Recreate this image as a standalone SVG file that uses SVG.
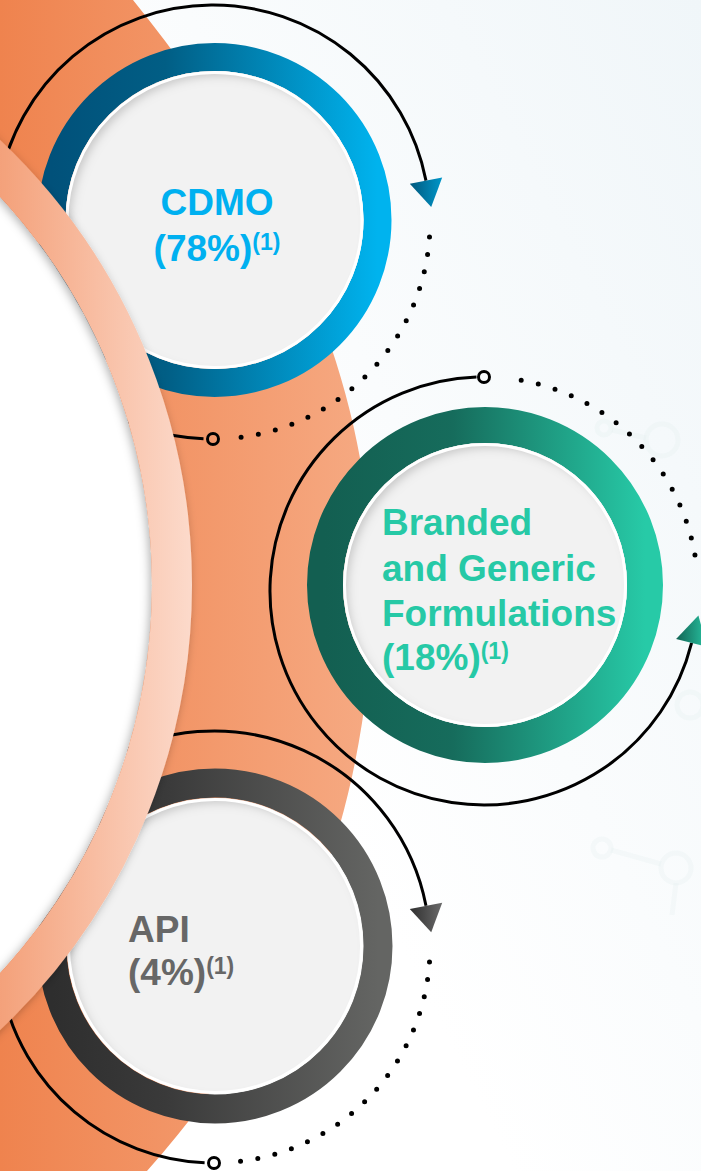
<svg xmlns="http://www.w3.org/2000/svg" width="701" height="1171" viewBox="0 0 701 1171">
  <defs>
    <style>
      .lbl { font-family: "Liberation Sans", Arial, sans-serif; font-weight: bold; font-size: 37px; }
      .sup { font-size: 23px; }
      .wire { fill: none; stroke: #000; stroke-width: 3; }
      .dots { fill: none; stroke: #000; stroke-width: 5; stroke-linecap: round; stroke-dasharray: 0 17.5; }
      .end { fill: none; stroke: #000; stroke-width: 3; }
      .disc { fill: #f2f2f2; filter: url(#inset); }
      .rim { fill: none; stroke: #ffffff; stroke-width: 3; }
      .deco { fill: none; stroke: #dcebec; stroke-width: 5; opacity: 0.2; }
    </style>
    <linearGradient id="bgGrad" x1="1" y1="0" x2="0.35" y2="0.55">
      <stop offset="0" stop-color="#f0f6f9"/>
      <stop offset="1" stop-color="#ffffff"/>
    </linearGradient>
    <linearGradient id="orangeGrad" gradientUnits="userSpaceOnUse" x1="0" y1="0" x2="375" y2="0">
      <stop offset="0" stop-color="#ef834e"/>
      <stop offset="1" stop-color="#f6aa83"/>
    </linearGradient>
    <linearGradient id="peachGrad" gradientUnits="userSpaceOnUse" x1="0" y1="0" x2="192" y2="0">
      <stop offset="0" stop-color="#f4a17a"/>
      <stop offset="1" stop-color="#fcdacb"/>
    </linearGradient>
    <linearGradient id="blueRing" x1="0" y1="0" x2="1" y2="0">
      <stop offset="0" stop-color="#01517a"/>
      <stop offset="0.35" stop-color="#015e85"/>
      <stop offset="1" stop-color="#00b3ee"/>
    </linearGradient>
    <linearGradient id="greenRing" x1="0" y1="0" x2="1" y2="0">
      <stop offset="0" stop-color="#135f51"/>
      <stop offset="0.4" stop-color="#166c5c"/>
      <stop offset="1" stop-color="#27caa7"/>
    </linearGradient>
    <linearGradient id="grayRing" x1="0" y1="0" x2="1" y2="0">
      <stop offset="0" stop-color="#2e2e2e"/>
      <stop offset="0.35" stop-color="#3a3a3a"/>
      <stop offset="1" stop-color="#646563"/>
    </linearGradient>
    <linearGradient id="blueHead" x1="0" y1="0" x2="1" y2="0">
      <stop offset="0" stop-color="#01587d"/>
      <stop offset="1" stop-color="#0096c9"/>
    </linearGradient>
    <linearGradient id="grayHead" x1="0" y1="0" x2="1" y2="0">
      <stop offset="0" stop-color="#2f2f2f"/>
      <stop offset="1" stop-color="#6a6a6a"/>
    </linearGradient>
    <linearGradient id="greenHead" x1="0" y1="0" x2="1" y2="0">
      <stop offset="0" stop-color="#136454"/>
      <stop offset="1" stop-color="#27c2a1"/>
    </linearGradient>
    <!-- soft bowl shading on the inner discs -->
    <filter id="inset" x="-6%" y="-6%" width="112%" height="112%">
      <feComponentTransfer in="SourceAlpha" result="inv">
        <feFuncA type="table" tableValues="1 0"/>
      </feComponentTransfer>
      <feGaussianBlur in="inv" stdDeviation="5" result="blur"/>
      <feOffset in="blur" dx="5" dy="5" result="off"/>
      <feComposite in="off" in2="SourceAlpha" operator="in" result="inner"/>
      <feColorMatrix in="inner" type="matrix" values="0 0 0 0 0  0 0 0 0 0  0 0 0 0 0  0 0 0 0.36 0" result="shadow"/>
      <feMerge>
        <feMergeNode in="SourceGraphic"/>
        <feMergeNode in="shadow"/>
      </feMerge>
    </filter>
    <filter id="bandShadow" x="-10%" y="-10%" width="120%" height="120%">
      <feDropShadow dx="-2" dy="2" stdDeviation="5" flood-color="#000" flood-opacity="0.3"/>
    </filter>
  </defs>

  <!-- backdrop -->
  <rect x="0" y="0" width="701" height="1171" fill="url(#bgGrad)"/>
  <g id="backdrop-molecules">
    <circle class="deco" cx="662" cy="440" r="16"/>
    <circle class="deco" cx="604" cy="428" r="7"/>
    <line class="deco" x1="612" y1="430" x2="646" y2="438"/>
    <circle class="deco" cx="690" cy="705" r="13"/>
    <circle class="deco" cx="602" cy="848" r="9"/>
    <circle class="deco" cx="676" cy="868" r="15"/>
    <line class="deco" x1="611" y1="850" x2="661" y2="864"/>
    <line class="deco" x1="676" y1="883" x2="672" y2="915"/>
  </g>

  <!-- orange sweep -->
  <path id="band" d="M0,0 L133,0 C255,150 376,360 372,600 C370,800 300,1000 147,1171 L0,1171 Z" fill="url(#orangeGrad)"/>

  <!-- CDMO node -->
  <g id="node-cdmo">
    <circle cx="214.5" cy="220" r="163" fill="none" stroke="url(#blueRing)" stroke-width="28"/>
    <circle class="disc" cx="214.5" cy="220" r="149"/>
    <circle class="rim" cx="214.5" cy="220" r="147.5"/>
    <text class="lbl" fill="#00b0f0" x="217" y="215" text-anchor="middle">CDMO</text>
    <text class="lbl" fill="#00b0f0" x="217" y="261" text-anchor="middle">(78%)<tspan class="sup" dy="-11">(1)</tspan></text>
  </g>

  <!-- Branded and Generic Formulations node -->
  <g id="node-formulations">
    <circle cx="485" cy="585" r="160" fill="none" stroke="url(#greenRing)" stroke-width="36"/>
    <circle class="disc" cx="485" cy="585" r="142"/>
    <circle class="rim" cx="485" cy="585" r="140.5"/>
    <text class="lbl" fill="#26c9a6" x="382" y="535">Branded</text>
    <text class="lbl" fill="#26c9a6" x="382" y="581">and Generic</text>
    <text class="lbl" fill="#26c9a6" x="382" y="626">Formulations</text>
    <text class="lbl" fill="#26c9a6" x="382" y="670">(18%)<tspan class="sup" dy="-11">(1)</tspan></text>
  </g>

  <!-- API node -->
  <g id="node-api">
    <circle cx="215" cy="946" r="163" fill="none" stroke="url(#grayRing)" stroke-width="29"/>
    <circle class="disc" cx="215" cy="946" r="148"/>
    <circle class="rim" cx="215" cy="946" r="146.5"/>
    <text class="lbl" fill="#676767" x="128" y="942">API</text>
    <text class="lbl" fill="#676767" x="128" y="985">(4%)<tspan class="sup" dy="-11">(1)</tspan></text>
  </g>

  <!-- cycle connectors -->
  <g id="connectors">
    <!-- around CDMO -->
    <path class="wire" d="M-0.7,184.3 A217,217 0 0 1 426,180.6"/>
    <polygon points="409.8,183.8 442.2,177.5 431.2,207.1" fill="url(#blueHead)"/>
    <path class="dots" d="M429.5,237.1 A217,217 0 0 1 239.4,437.4"/>
    <path class="wire" d="M203.5,438.8 A217,217 0 0 1 88.5,399.8"/>
    <circle class="end" cx="213" cy="439" r="5.5"/>

    <!-- around formulations -->
    <path class="wire" d="M476.5,377.1 A214,214 0 1 0 691.6,642.8"/>
    <polygon points="676.1,638.9 707.1,646.7 698.4,615.6" fill="url(#greenHead)"/>
    <path class="dots" d="M521.2,380.3 A214,214 0 0 1 695.9,561.2"/>
    <circle class="end" cx="484" cy="377" r="5.5"/>

    <!-- around API -->
    <path class="wire" d="M106,759.9 A216,216 0 0 1 426,905.8"/>
    <polygon points="409.8,909 442.2,902.7 431.2,932.3" fill="url(#grayHead)"/>
    <path class="dots" d="M429.5,962.1 A216,216 0 0 1 240.3,1161.4"/>
    <path class="wire" d="M204.6,1162.8 A216,216 0 0 1 2.7,991.9"/>
    <circle class="end" cx="214" cy="1163" r="5.5"/>
  </g>

  <!-- pale arc with white hub on the left edge -->
  <g id="hub">
    <circle cx="-420" cy="585" r="572" fill="#ffffff"/>
    <circle cx="-420" cy="585" r="592" fill="none" stroke="url(#peachGrad)" stroke-width="40" filter="url(#bandShadow)"/>
  </g>
</svg>
